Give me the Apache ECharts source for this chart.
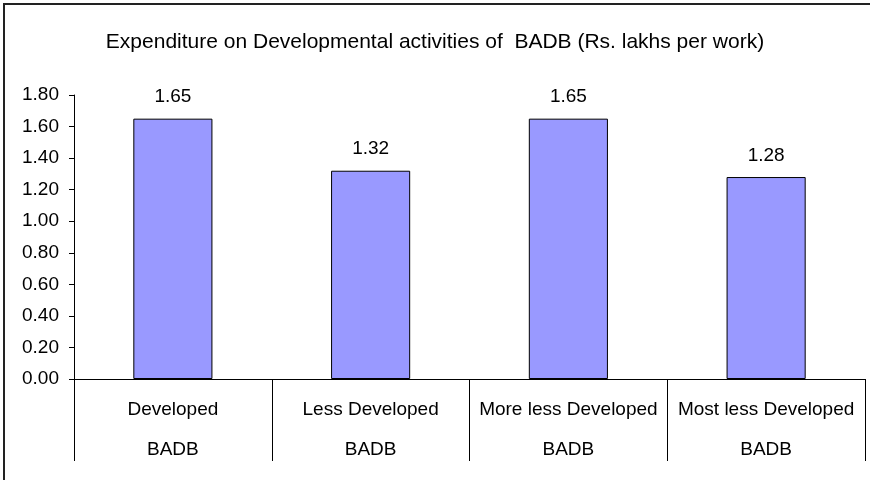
<!DOCTYPE html>
<html>
<head>
<meta charset="utf-8">
<script src="https://cdn.jsdelivr.net/npm/echarts@6/dist/echarts.min.js"></script>
<style>
  html, body { margin: 0; padding: 0; background: #fff; }
  #main { width: 870px; height: 480px; }
</style>
</head>
<body>
<div id="main"></div>
<script>
// chart data
var categories = ['Developed', 'Less Developed', 'More less Developed', 'Most less Developed'];
var groupLabels = ['BADB', 'BADB', 'BADB', 'BADB'];
var values = [1.65, 1.32, 1.65, 1.28];

var myChart = echarts.init(document.getElementById('main'));

var font = 'Liberation Sans, Arial, sans-serif';

var option = {
    animation: false,
    textStyle: { fontFamily: font },
    title: {
        text: 'Expenditure on Developmental activities of  BADB (Rs. lakhs per work)',
        left: 'center',
        top: 27,
        textStyle: { fontFamily: font, fontSize: 21, fontWeight: 'normal', color: '#000' }
    },
    graphic: [{
        type: 'rect',
        shape: { x: 4, y: 4, width: 900, height: 500 },
        style: { fill: 'none', stroke: '#222', lineWidth: 2 },
        silent: true
    }],
    grid: { left: 74, right: 5, top: 95, bottom: 101, containLabel: false },
    xAxis: {
        type: 'category',
        data: categories,
        axisLine: { lineStyle: { color: '#000', width: 1 } },
        axisTick: { show: true, alignWithLabel: false, length: 82, lineStyle: { color: '#000' } },
        axisLabel: {
            margin: 11,
            fontSize: 19,
            lineHeight: 40,
            color: '#000',
            fontFamily: font,
            interval: 0,
            formatter: function (v, i) { return v + '\n' + groupLabels[i]; }
        }
    },
    yAxis: {
        type: 'value',
        min: 0,
        max: 1.8,
        interval: 0.2,
        splitLine: { show: false },
        axisLine: { show: true, lineStyle: { color: '#000' } },
        axisTick: { show: true, length: 5, lineStyle: { color: '#000' } },
        axisLabel: {
            margin: 15,
            fontSize: 19,
            color: '#000',
            fontFamily: font,
            formatter: function (v) { return v.toFixed(2); }
        }
    },
    series: [{
        type: 'bar',
        data: values,
        barWidth: '40%',
        itemStyle: { color: '#9999FF', borderColor: '#000', borderWidth: 1 },
        label: {
            show: true,
            position: 'top',
            distance: 12,
            fontSize: 19,
            color: '#000',
            fontFamily: font,
            formatter: function (p) { return p.value.toFixed(2); }
        }
    }]
};

myChart.setOption(option);
</script>
</body>
</html>
